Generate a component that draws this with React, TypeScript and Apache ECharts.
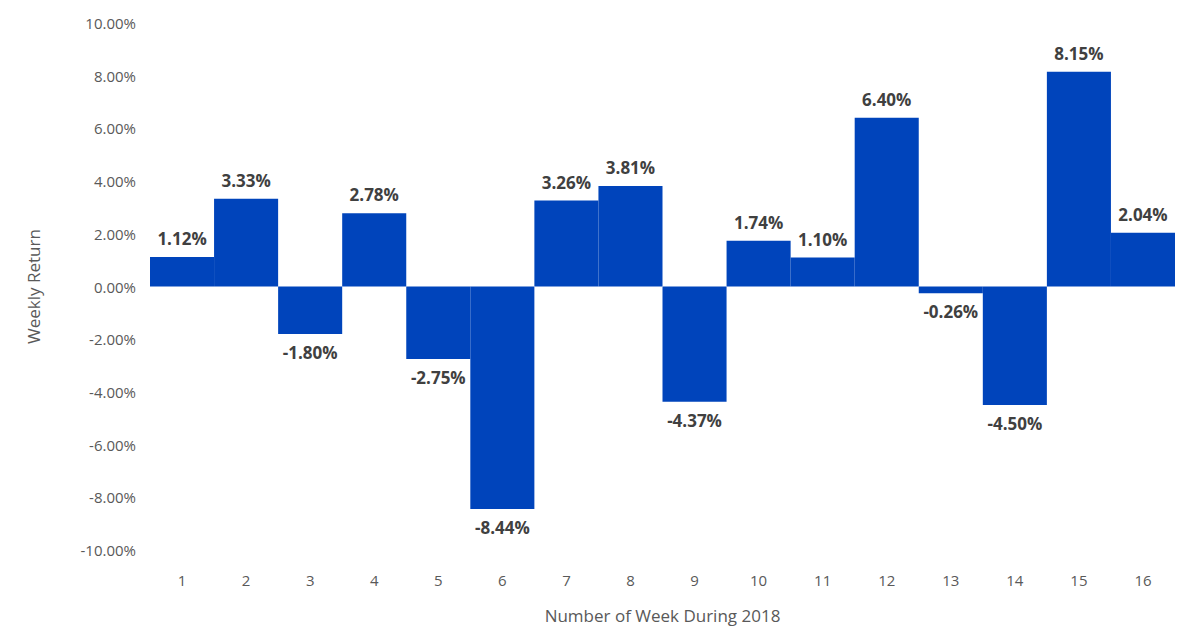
import React, { useRef, useEffect } from 'react';
import * as echarts from 'echarts';

const weeks = ['1', '2', '3', '4', '5', '6', '7', '8', '9', '10', '11', '12', '13', '14', '15', '16'];
const weeklyReturn = [1.12, 3.33, -1.8, 2.78, -2.75, -8.44, 3.26, 3.81, -4.37, 1.74, 1.1, 6.4, -0.26, -4.5, 8.15, 2.04];

export default function App() {
  const chartRef = useRef<HTMLDivElement>(null);

  useEffect(() => {
    document.body.style.margin = '0';
    if (!chartRef.current) return;
    const chart = echarts.init(chartRef.current, null, { renderer: 'svg' });

    const option: echarts.EChartsOption = {
      animation: false,
      textStyle: { fontFamily: 'Open Sans, sans-serif' },
      grid: { left: 150, right: 25, top: 23, bottom: 91 },
      xAxis: {
        type: 'category',
        data: weeks,
        axisLine: { show: false, onZero: false },
        axisTick: { show: false },
        axisLabel: { color: '#595959', fontSize: 15, margin: 22 },
        name: 'Number of Week During 2018',
        nameLocation: 'middle',
        nameGap: 57,
        nameTextStyle: { color: '#595959', fontSize: 17 },
      },
      yAxis: {
        type: 'value',
        min: -10,
        max: 10,
        interval: 2,
        splitLine: { show: false },
        axisLine: { show: false },
        axisLabel: {
          color: '#595959',
          fontSize: 15,
          margin: 14,
          formatter: (v: number) => v.toFixed(2) + '%',
        },
        name: 'Weekly Return',
        nameLocation: 'middle',
        nameGap: 108,
        nameTextStyle: { color: '#595959', fontSize: 17 },
      },
      series: [
        {
          type: 'bar',
          data: weeklyReturn.map((v) => ({
            value: v,
            label: { position: v >= 0 ? 'top' : 'bottom' },
          })),
          barCategoryGap: '0%',
          itemStyle: { color: '#0044bb' },
          label: {
            show: true,
            color: '#404040',
            fontSize: 17,
            fontWeight: 'bold',
            distance: 10,
            formatter: (p: any) => p.value.toFixed(2) + '%',
          },
        },
      ],
    };

    chart.setOption(option);
    return () => chart.dispose();
  }, []);

  return <div ref={chartRef} style={{ width: 1200, height: 641 }} />;
}
